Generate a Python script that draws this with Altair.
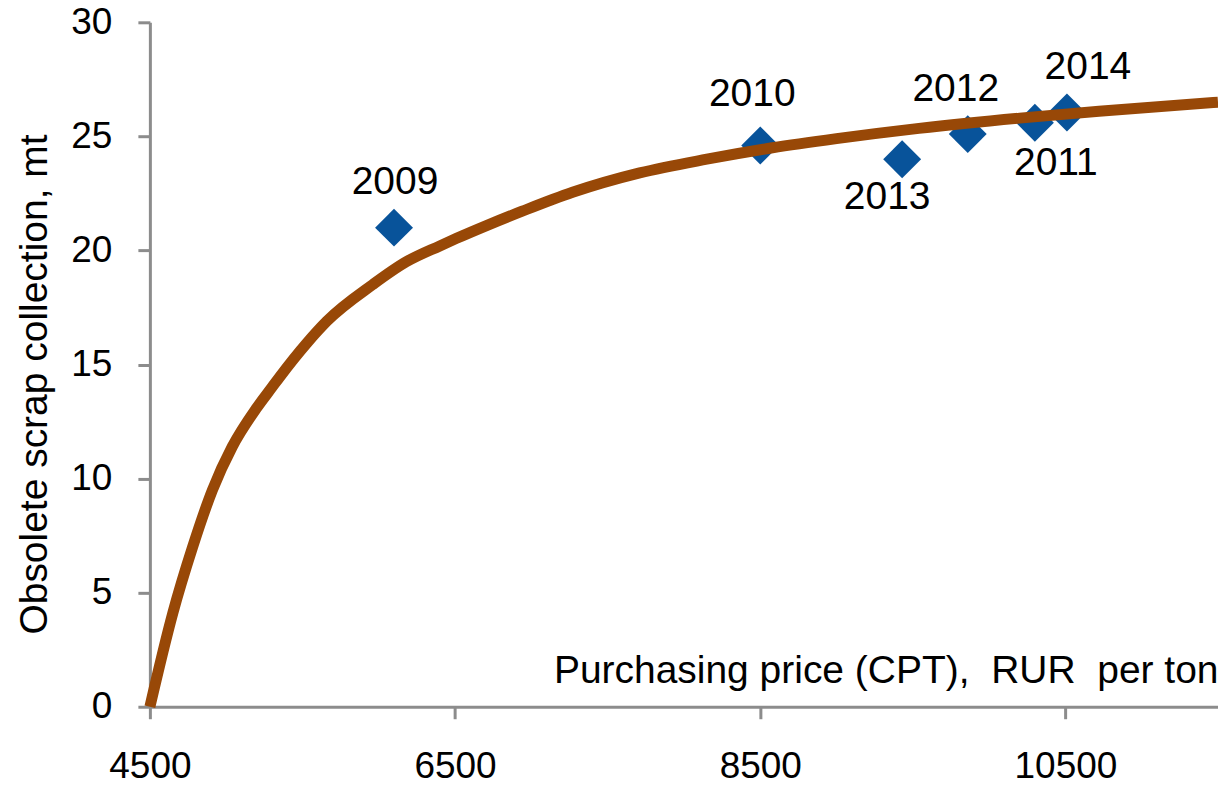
import altair as alt
import pandas as pd

# Observed data points
years = ["2009", "2010", "2011", "2012", "2013", "2014"]
price = [6100, 8500, 10300, 9860, 9430, 10510]
collection = [21.0, 24.6, 25.6, 25.1, 24.0, 26.05]

# Fitted curve
curve_price = [4500, 4650, 4780, 4910, 5040, 5200, 5300, 5350, 5530, 5660, 5960,
               6180, 6400, 6510, 6710, 6940, 7270, 7710, 8150, 8580, 9000, 9540,
               10200, 10720, 11500]
curve_value = [0, 4.1, 7.0, 9.5, 11.4, 13.1, 14.0, 14.45, 15.95, 16.9, 18.5,
               19.5, 20.2, 20.53, 21.1, 21.72, 22.55, 23.4, 24.0, 24.5, 24.9, 25.35,
               25.8, 26.1, 26.5]

x_ticks = [4500, 6500, 8500, 10500]
y_ticks = [0, 5, 10, 15, 20, 25, 30]

pts = pd.DataFrame({"year": years, "price": price, "collection": collection})
curve = pd.DataFrame({"price": curve_price, "collection": curve_value})

FONT = "Liberation Sans"
AX_GRAY = "#8C8C8C"
NB = "\u00a0"

xscale = alt.Scale(domain=[4500, 11500], nice=False, zero=False)
yscale = alt.Scale(domain=[0, 30], nice=False)

x_axis = alt.Axis(
    values=x_ticks, format="d", grid=False,
    domainColor=AX_GRAY, domainWidth=3, tickColor=AX_GRAY, tickWidth=3, tickSize=12,
    labelFont=FONT, labelFontSize=37, labelColor="black",
    labelBaseline="alphabetic", labelPadding=59, labelFlush=False,
    title="Purchasing price (CPT)," + NB + NB + "RUR" + NB + NB + "per ton",
    titleFont=FONT, titleFontSize=39, titleFontWeight="normal", titleColor="black",
    titleAnchor="end", titleAlign="right", titleBaseline="alphabetic",
    titleX=1069, titleY=-24,
)
y_axis = alt.Axis(
    values=y_ticks, grid=False,
    domainColor=AX_GRAY, domainWidth=3, tickColor=AX_GRAY, tickWidth=3, tickSize=12,
    labelFont=FONT, labelFontSize=37, labelColor="black", labelPadding=26,
    labelFlush=False,
    title="Obsolete scrap collection, mt",
    titleFont=FONT, titleFontSize=39, titleFontWeight="normal", titleColor="black",
    titleAngle=-90, titleAlign="center", titleBaseline="alphabetic",
    titleX=-103, titleY=362,
)

points = alt.Chart(pts).mark_point(
    shape="diamond", filled=True, size=1440, color="#08539A", opacity=1
).encode(
    x=alt.X("price:Q", scale=xscale, axis=x_axis),
    y=alt.Y("collection:Q", scale=yscale, axis=y_axis),
)

line = alt.Chart(curve).mark_line(
    color="#984807", strokeWidth=11, interpolate="monotone"
).encode(
    x=alt.X("price:Q", scale=xscale),
    y=alt.Y("collection:Q", scale=yscale),
)

label_offsets = {
    "2009": (1, -34),
    "2010": (-8, -40),
    "2011": (21, 52),
    "2012": (-12, -33),
    "2013": (-15, 50),
    "2014": (21, -33),
}

label_layers = []
for yr, (dx, dy) in label_offsets.items():
    label_layers.append(
        alt.Chart(pts).transform_filter(alt.datum.year == yr).mark_text(
            font=FONT, fontSize=39, color="black", dx=dx, dy=dy,
            baseline="alphabetic", align="center"
        ).encode(
            x=alt.X("price:Q", scale=xscale),
            y=alt.Y("collection:Q", scale=yscale),
            text="year:N",
        )
    )

chart = alt.layer(points, line, *label_layers).properties(
    width=1069, height=685,
    autosize=alt.AutoSizeParams(type="none"),
    padding={"left": 142, "top": 14, "right": 0, "bottom": 72},
).configure_view(stroke=None)

chart.save("out.html", embed_options={"renderer": "svg", "actions": False})
